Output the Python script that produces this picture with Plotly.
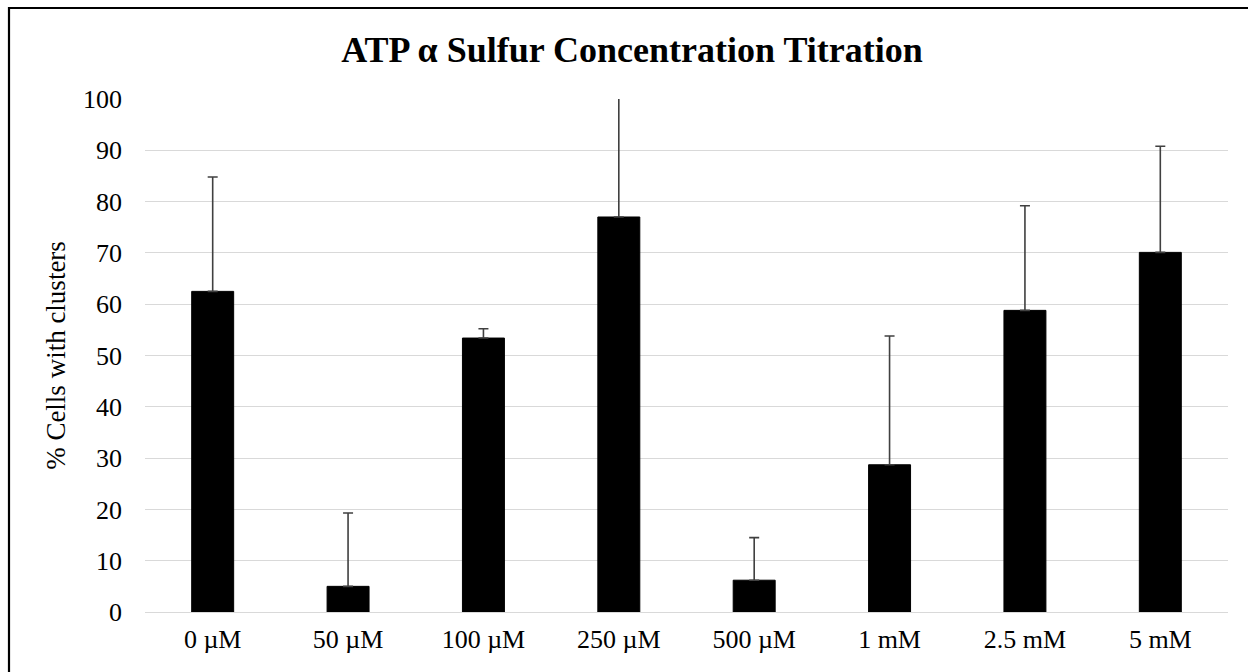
import plotly.graph_objects as go

categories = ["0 µM", "50 µM", "100 µM", "250 µM", "500 µM", "1 mM", "2.5 mM", "5 mM"]
values = [62.5, 5.0, 53.4, 77.0, 6.2, 28.7, 58.8, 70.1]
err_plus = [22.3, 14.3, 1.8, 26.0, 8.3, 25.1, 20.4, 20.7]
y_ticks = [0, 10, 20, 30, 40, 50, 60, 70, 80, 90, 100]

W, H = 1248, 672
ML, MR, MT, MB = 145, 20, 99, 60
PW, PH = W - ML - MR, H - MT - MB

FONT = "Liberation Serif"

fig = go.Figure()
fig.add_trace(go.Bar(
    x=categories,
    y=values,
    marker=dict(color="#000000", line=dict(color="#000000", width=1)),
    error_y=dict(
        type="data",
        symmetric=False,
        array=err_plus,
        arrayminus=[0] * len(values),
        color="#404040",
        thickness=1.6,
        width=5,
    ),
    showlegend=False,
))

# outer frame (decoration), extends beyond the page on right/bottom like the reference
def px_to_paper_x(px):
    return (px - ML) / PW

def px_to_paper_y(py):
    return (H - MB - py) / PH

fig.add_shape(
    type="rect", xref="paper", yref="paper",
    x0=px_to_paper_x(9), x1=px_to_paper_x(W + 20),
    y0=px_to_paper_y(H + 20), y1=px_to_paper_y(8),
    line=dict(color="#000000", width=2.2),
    fillcolor="rgba(0,0,0,0)",
    layer="above",
)

fig.update_layout(
    width=W, height=H,
    margin=dict(l=ML, r=MR, t=MT, b=MB, pad=0),
    paper_bgcolor="#ffffff",
    plot_bgcolor="#ffffff",
    bargap=0.69,
    font=dict(family=FONT, color="#000000", size=26),
    title=dict(
        text="<b>ATP α Sulfur Concentration Titration</b>",
        font=dict(family=FONT, size=36, color="#000000"),
        x=(632) / W, xanchor="center", xref="container",
        y=(H - 49) / H, yanchor="middle", yref="container",
    ),
    xaxis=dict(
        type="category",
        showgrid=False,
        showline=False,
        zeroline=False,
        ticks="",
        tickfont=dict(family=FONT, size=26, color="#000000"),
        ticklabelstandoff=9,
    ),
    yaxis=dict(
        range=[0, 100],
        tickvals=y_ticks,
        showgrid=True,
        gridcolor="#d9d9d9",
        gridwidth=1.3,
        zeroline=True,
        zerolinecolor="#d9d9d9",
        zerolinewidth=1.3,
        showline=False,
        ticks="",
        tickfont=dict(family=FONT, size=26, color="#000000"),
        ticklabelstandoff=22,
        title=dict(
            text="% Cells with clusters",
            font=dict(family=FONT, size=27, color="#000000"),
            standoff=9,
        ),
    ),
)

fig.write_html("out.html")
